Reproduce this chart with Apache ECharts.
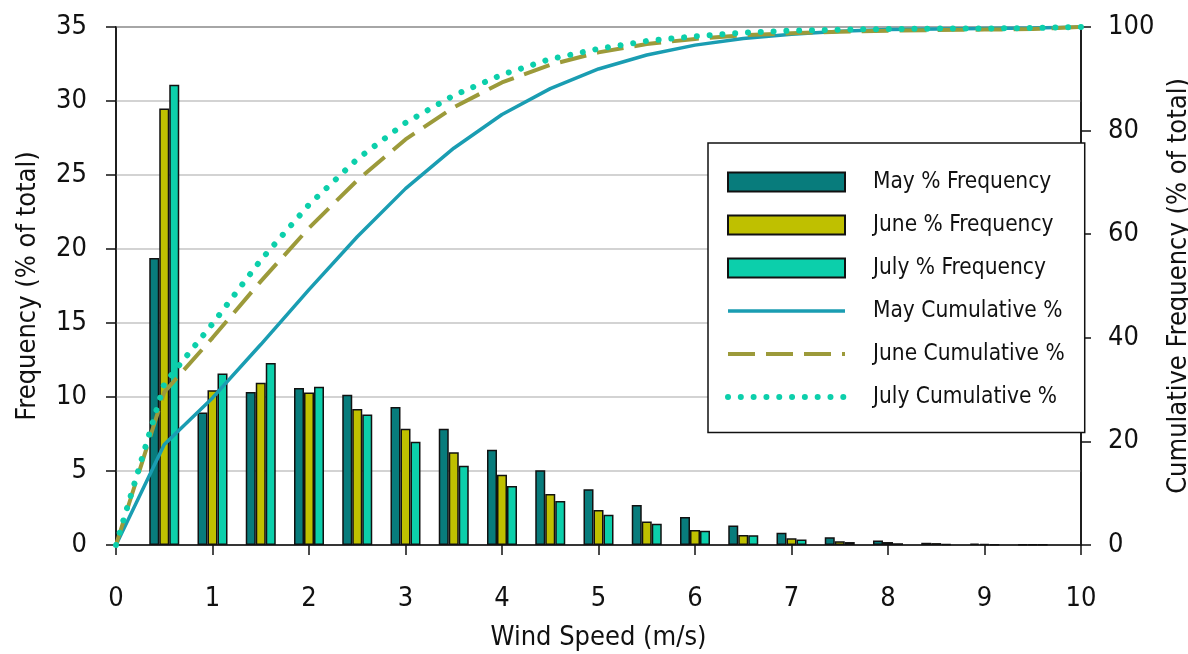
<!DOCTYPE html>
<html>
<head>
<meta charset="utf-8">
<script src="https://cdn.jsdelivr.net/npm/echarts@6/dist/echarts.min.js"></script>
<style>
html,body{margin:0;padding:0;background:#fff;}
#chart{width:1188px;height:654px;}
</style>
</head>
<body>
<div id="chart"></div>
<script>
// Bin centres (m/s) for the frequency bars
const binSpeeds = [0.5, 1, 1.5, 2, 2.5, 3, 3.5, 4, 4.5, 5, 5.5, 6, 6.5, 7, 7.5, 8, 8.5, 9, 9.5];
// % frequency per bin
const mayFreq  = [19.4, 8.96, 10.34, 10.61, 10.16, 9.32, 7.85, 6.43, 5.05, 3.77, 2.71, 1.90, 1.31, 0.82, 0.52, 0.31, 0.15, 0.10, 0.05];
const juneFreq = [29.5, 10.45, 10.97, 10.31, 9.19, 7.85, 6.27, 4.74, 3.44, 2.37, 1.58, 1.02, 0.68, 0.45, 0.25, 0.20, 0.13, 0.08, 0.05];
const julyFreq = [31.1, 11.58, 12.30, 10.70, 8.82, 6.97, 5.35, 3.99, 2.97, 2.05, 1.44, 0.97, 0.66, 0.37, 0.20, 0.12, 0.06, 0.03, 0.02];
// Cumulative curve points (m/s)
const cumSpeeds = [0, 0.5, 1, 1.5, 2, 2.5, 3, 3.5, 4, 4.5, 5, 5.5, 6, 6.5, 7, 7.5, 8, 8.5, 9, 9.5, 10];
const mayCum  = [0, 19.4, 28.4, 38.7, 49.3, 59.5, 68.8, 76.6, 83.1, 88.1, 91.9, 94.6, 96.5, 97.8, 98.6, 99.2, 99.5, 99.6, 99.7, 99.8, 100];
const juneCum = [0, 29.5, 40.0, 50.9, 61.2, 70.4, 78.3, 84.5, 89.3, 92.7, 95.1, 96.7, 97.7, 98.4, 98.8, 99.1, 99.3, 99.4, 99.5, 99.6, 100];
const julyCum = [0, 31.1, 42.7, 55.0, 65.7, 74.5, 81.5, 86.8, 90.8, 93.8, 95.8, 97.3, 98.2, 98.9, 99.3, 99.5, 99.6, 99.7, 99.7, 99.8, 100];
// Axis ticks
const xTicks = {min: 0, max: 10, interval: 1};
const freqTicks = {min: 0, max: 35, interval: 5};
const cumTicks = {min: 0, max: 100, interval: 20};
const names = ['May % Frequency', 'June % Frequency', 'July % Frequency', 'May Cumulative %', 'June Cumulative %', 'July Cumulative %'];

const FONT = "'Liberation Sans Narrow', 'Arial Narrow', 'DejaVu Sans Condensed', sans-serif";
const pair = (xs, ys) => xs.map((x, i) => [x, ys[i]]);

const C = {
  mayBar: '#087c7c', juneBar: '#bfc000', julyBar: '#0ccfab',
  mayLine: '#1a9db2', juneLine: '#9c9a3a', julyLine: '#0ccfab'
};
const LS = {
  may:  {color: C.mayLine, width: 3.5, type: 'solid'},
  june: {color: C.juneLine, width: 4, type: [27, 11], cap: 'butt'},
  july: {color: C.julyLine, width: 6, type: [0.01, 12.8], cap: 'round'}
};
const hiddenSymbol = {color: 'rgba(0,0,0,0)', borderColor: 'rgba(0,0,0,0)', borderWidth: 0, opacity: 0};

const chart = echarts.init(document.getElementById('chart'), null, {renderer: 'canvas'});
const barBase = {type: 'bar', barWidth: 10, barGap: '0%', xAxisIndex: 0, yAxisIndex: 0};
const lineBase = {type: 'line', symbol: 'none', xAxisIndex: 0, yAxisIndex: 1, z: 5, smooth: false};
const axisCommon = {
  axisLine: {show: true, onZero: false, lineStyle: {color: '#111', width: 1.5}},
  axisTick: {show: true, inside: false, length: 10, lineStyle: {color: '#111', width: 1.5}}
};
chart.setOption({
  animation: false,
  backgroundColor: '#fff',
  textStyle: {fontFamily: FONT, color: '#111'},
  grid: {left: 116, right: 107, top: 27, bottom: 109, containLabel: false, outerBoundsMode: 'none',
         show: true, borderColor: '#111', borderWidth: 1.5, backgroundColor: 'transparent'},
  legend: {
    data: [
      {name: names[0], icon: 'rect'}, {name: names[1], icon: 'rect'}, {name: names[2], icon: 'rect'},
      {name: names[3], itemStyle: hiddenSymbol, lineStyle: LS.may},
      {name: names[4], itemStyle: hiddenSymbol, lineStyle: LS.june},
      {name: names[5], itemStyle: hiddenSymbol, lineStyle: LS.july}
    ],
    orient: 'vertical',
    left: 708, top: 143,
    padding: [27.5, 20, 24, 17],
    itemWidth: 117, itemHeight: 19, itemGap: 20,
    borderColor: '#111', borderWidth: 1.5, backgroundColor: '#fff',
    textStyle: {fontFamily: FONT, fontSize: 22.5, color: '#111', padding: [0, 0, 0, 23], width: 185, overflow: 'none'},
    selectedMode: false
  },
  xAxis: Object.assign({}, axisCommon, {
    type: 'value', min: xTicks.min, max: xTicks.max, interval: xTicks.interval,
    name: 'Wind Speed (m/s)', nameLocation: 'middle', nameGap: 79,
    nameTextStyle: {fontFamily: FONT, fontSize: 27, color: '#111'},
    axisLabel: {fontFamily: FONT, fontSize: 27, color: '#111', margin: 40},
    splitLine: {show: false}
  }),
  yAxis: [Object.assign({}, axisCommon, {
    type: 'value', position: 'left', min: freqTicks.min, max: freqTicks.max, interval: freqTicks.interval,
    name: 'Frequency (% of total)', nameLocation: 'middle', nameGap: 75, nameRotate: 90,
    nameTextStyle: {fontFamily: FONT, fontSize: 27, color: '#111'},
    axisLabel: {fontFamily: FONT, fontSize: 27, color: '#111', margin: 29},
    splitLine: {show: true, lineStyle: {color: '#c4c4c4', width: 1.5}}
  }), Object.assign({}, axisCommon, {
    type: 'value', position: 'right', min: cumTicks.min, max: cumTicks.max, interval: cumTicks.interval,
    name: 'Cumulative Frequency (% of total)', nameLocation: 'middle', nameGap: 70, nameRotate: 90,
    nameTextStyle: {fontFamily: FONT, fontSize: 27, color: '#111'},
    axisLabel: {fontFamily: FONT, fontSize: 27, color: '#111', margin: 27},
    splitLine: {show: false}
  })],
  series: [
    Object.assign({}, barBase, {name: names[0], data: pair(binSpeeds, mayFreq),
      itemStyle: {color: C.mayBar, borderColor: '#111', borderWidth: 1.5}}),
    Object.assign({}, barBase, {name: names[1], data: pair(binSpeeds, juneFreq),
      itemStyle: {color: C.juneBar, borderColor: '#111', borderWidth: 1.5}}),
    Object.assign({}, barBase, {name: names[2], data: pair(binSpeeds, julyFreq),
      itemStyle: {color: C.julyBar, borderColor: '#111', borderWidth: 1.5}}),
    Object.assign({}, lineBase, {name: names[3], data: pair(cumSpeeds, mayCum),
      itemStyle: {color: C.mayLine}, lineStyle: LS.may}),
    Object.assign({}, lineBase, {name: names[4], data: pair(cumSpeeds, juneCum),
      itemStyle: {color: C.juneLine}, lineStyle: LS.june}),
    Object.assign({}, lineBase, {name: names[5], data: pair(cumSpeeds, julyCum),
      itemStyle: {color: C.julyLine}, lineStyle: LS.july})
  ]
});
</script>
</body>
</html>
